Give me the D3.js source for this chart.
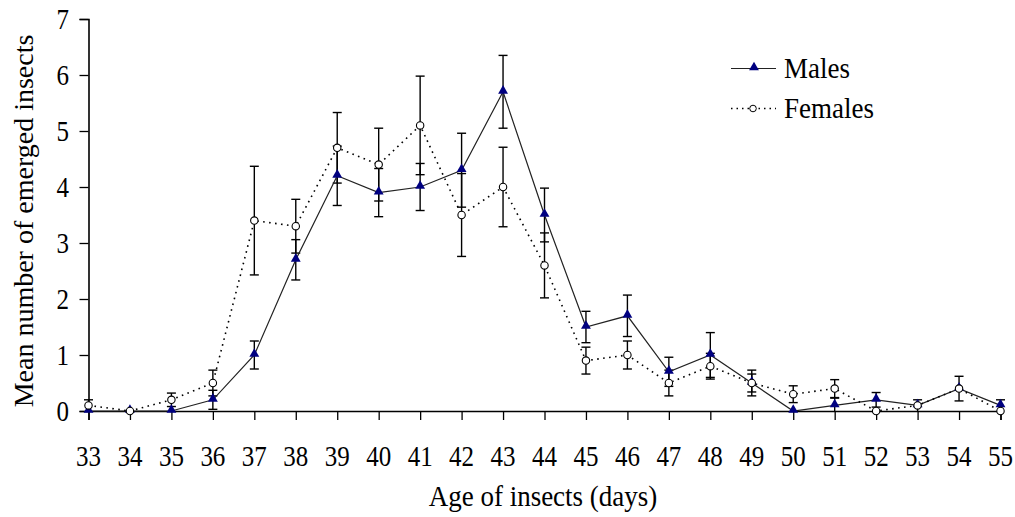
<!DOCTYPE html>
<html>
<head>
<meta charset="utf-8">
<script src="https://cdn.jsdelivr.net/npm/d3@7"></script>
<style>
  html, body { margin: 0; padding: 0; background: #fff; }
  svg { display: block; }
</style>
</head>
<body>
<svg id="chart" width="1015" height="517"></svg>
<script>
// Age of insects (days)
const days = [33,34,35,36,37,38,39,40,41,42,43,44,45,46,47,48,49,50,51,52,53,54,55];
// Mean number of emerged males and its standard error
const males   = [0,0,0,0.2,1.0,2.7,4.2,3.9,4.0,4.3,5.7,3.5,1.5,1.7,0.7,1.0,0.5,0,0.1,0.2,0.1,0.4,0.1];
const malesSE = [0,0,0,0.17,0.25,0.36,0.53,0.43,0.42,0.66,0.65,0.48,0.28,0.37,0.26,0.4,0.16,0,0.13,0.13,0,0,0.1];
// Mean number of emerged females and its standard error
const females   = [0.1,0,0.2,0.5,3.4,3.3,4.7,4.4,5.1,3.5,4.0,2.6,0.9,1.0,0.5,0.8,0.5,0.3,0.4,0,0.1,0.4,0];
const femalesSE = [0.1,0,0.12,0.23,0.97,0.48,0.63,0.65,0.88,0.74,0.71,0.58,0.24,0.25,0.23,0.23,0.23,0.15,0.16,0,0.1,0.22,0];
const yTicks = [0,1,2,3,4,5,6,7];

const FONT = "'Liberation Serif', 'Times New Roman', Tinos, 'DejaVu Serif', serif";

const svg = d3.select("#chart");
const x = d3.scaleLinear().domain([33, 55]).range([88.5, 1000.5]);
const y = d3.scaleLinear().domain([0, 7]).range([411, 19]);

// Axes
const xAxis = svg.append("g").attr("transform", "translate(0,411)")
  .call(d3.axisBottom(x).tickValues(days).tickSize(9).tickFormat(""));
const yAxis = svg.append("g").attr("transform", "translate(88.5,0)")
  .call(d3.axisLeft(y).tickValues(yTicks).tickSize(9).tickFormat(""));
[xAxis, yAxis].forEach(g => {
  g.select(".domain").attr("stroke", "#000").attr("stroke-width", 1.6);
  g.selectAll(".tick line").attr("stroke", "#000").attr("stroke-width", 1.3);
});

// Tick labels, set slightly tall
svg.append("g").selectAll("text").data(days).join("text")
  .attr("transform", d => `translate(${x(d)},466) scale(1,1.18)`)
  .attr("text-anchor", "middle")
  .style("font-family", FONT).attr("font-size", 25)
  .text(d => d);
svg.append("g").selectAll("text").data(yTicks).join("text")
  .attr("transform", d => `translate(69,${y(d) + 10}) scale(1,1.18)`)
  .attr("text-anchor", "end")
  .style("font-family", FONT).attr("font-size", 25)
  .text(d => d);

// Axis titles
svg.append("text")
  .attr("transform", "translate(543,506) scale(1,1.1)")
  .attr("text-anchor", "middle")
  .style("font-family", FONT).attr("font-size", 27)
  .text("Age of insects (days)");
svg.append("text")
  .attr("transform", "translate(33,221) rotate(-90)")
  .attr("text-anchor", "middle")
  .style("font-family", FONT).attr("font-size", 28)
  .text("Mean number of emerged insects");

const idx = d3.range(days.length);
const lineFor = vals => d3.line().x(i => x(days[i])).y(i => y(vals[i]));

// Error bars
function errorBars(vals, se) {
  const g = svg.append("g").attr("stroke", "#000").attr("stroke-width", 1.4);
  const rows = idx.filter(i => se[i] > 0);
  g.selectAll("line.v").data(rows).join("line")
    .attr("x1", i => x(days[i])).attr("x2", i => x(days[i]))
    .attr("y1", i => y(vals[i] + se[i])).attr("y2", i => y(Math.max(0, vals[i] - se[i])));
  g.selectAll("line.top").data(rows).join("line")
    .attr("x1", i => x(days[i]) - 4.5).attr("x2", i => x(days[i]) + 4.5)
    .attr("y1", i => y(vals[i] + se[i])).attr("y2", i => y(vals[i] + se[i]));
  g.selectAll("line.bot").data(rows.filter(i => vals[i] - se[i] > 0)).join("line")
    .attr("x1", i => x(days[i]) - 4.5).attr("x2", i => x(days[i]) + 4.5)
    .attr("y1", i => y(vals[i] - se[i])).attr("y2", i => y(vals[i] - se[i]));
}
errorBars(males, malesSE);
errorBars(females, femalesSE);

// Series lines
svg.append("path").datum(idx).attr("d", lineFor(males))
  .attr("fill", "none").attr("stroke", "#222").attr("stroke-width", 1.2);
svg.append("path").datum(idx).attr("d", lineFor(females))
  .attr("fill", "none").attr("stroke", "#000").attr("stroke-width", 1.6)
  .attr("stroke-dasharray", "1.6,4.4");

// Markers
const tri = d3.symbol().type(d3.symbolTriangle).size(42);
svg.append("g").selectAll("path").data(idx).join("path")
  .attr("transform", i => `translate(${x(days[i])},${y(males[i]) - 1})`)
  .attr("d", tri).attr("fill", "#000080");
svg.append("g").selectAll("circle").data(idx).join("circle")
  .attr("cx", i => x(days[i])).attr("cy", i => y(females[i]))
  .attr("r", 3.7).attr("fill", "#fff").attr("stroke", "#000").attr("stroke-width", 1.1);

// Legend
const leg = svg.append("g");
leg.append("line").attr("x1", 731).attr("x2", 776).attr("y1", 68.5).attr("y2", 68.5)
  .attr("stroke", "#222").attr("stroke-width", 1.2);
leg.append("path").attr("transform", "translate(754,67.5)").attr("d", tri).attr("fill", "#000080");
leg.append("text").attr("transform", "translate(784,77.5) scale(1,1.1)")
  .style("font-family", FONT).attr("font-size", 27).text("Males");
leg.append("line").attr("x1", 731).attr("x2", 776).attr("y1", 108.5).attr("y2", 108.5)
  .attr("stroke", "#000").attr("stroke-width", 1.4).attr("stroke-dasharray", "1.5,4");
leg.append("circle").attr("cx", 753).attr("cy", 108.5).attr("r", 3.3)
  .attr("fill", "#fff").attr("stroke", "#000").attr("stroke-width", 1);
leg.append("text").attr("transform", "translate(784,117.5) scale(1,1.1)")
  .style("font-family", FONT).attr("font-size", 27).text("Females");
</script>
</body>
</html>
